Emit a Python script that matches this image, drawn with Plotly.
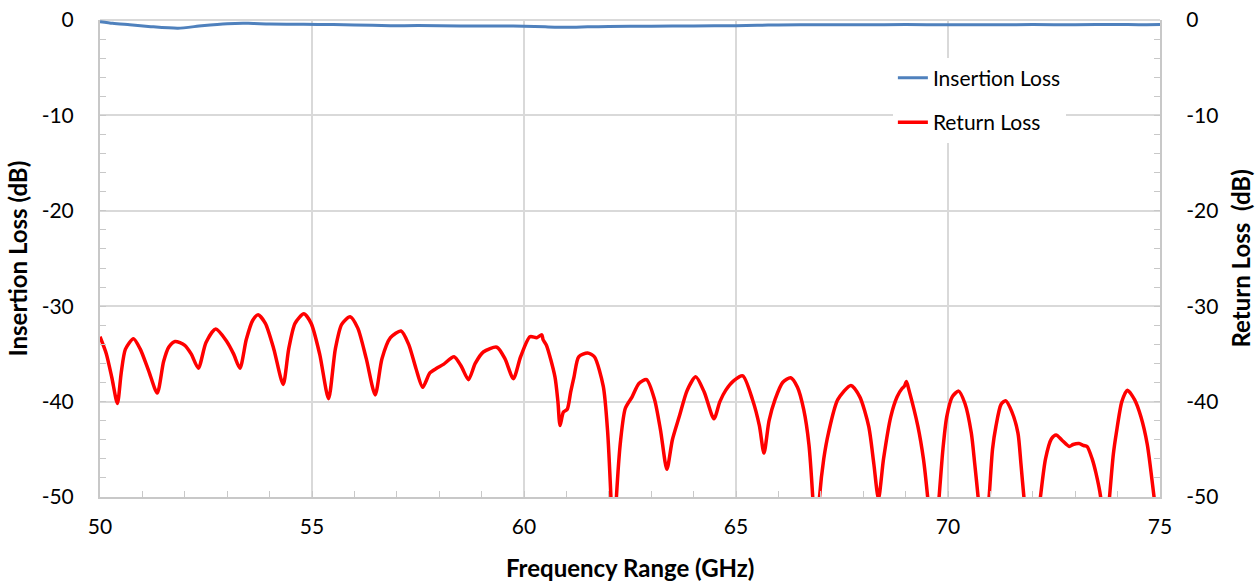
import plotly.graph_objects as go

# Return Loss (red), right axis
rl_freq = [50.00, 50.15, 50.28, 50.41, 50.50, 50.60, 50.79, 50.95, 51.15, 51.35,
           51.50, 51.62, 51.77, 52.00, 52.15, 52.32, 52.50, 52.73, 52.99, 53.15,
           53.30, 53.45, 53.60, 53.73, 53.90, 54.10, 54.32, 54.45, 54.60, 54.81,
           54.98, 55.18, 55.39, 55.55, 55.70, 55.90, 56.08, 56.28, 56.49, 56.65,
           56.85, 57.10, 57.28, 57.45, 57.61, 57.78, 57.94, 58.10, 58.35, 58.52,
           58.69, 58.85, 59.04, 59.36, 59.55, 59.75, 59.92, 60.14, 60.30, 60.42,
           60.45, 60.53, 60.73, 60.80, 60.85, 60.93, 61.02, 61.10, 61.18, 61.29,
           61.50, 61.66, 61.87, 61.97, 62.05, 62.11, 62.18, 62.28, 62.39, 62.55,
           62.71, 62.89, 63.08, 63.22, 63.37, 63.50, 63.66, 63.85, 64.05, 64.25,
           64.48, 64.62, 64.76, 64.95, 65.16, 65.39, 65.55, 65.66, 65.78, 65.92,
           66.10, 66.29, 66.45, 66.60, 66.72, 66.81, 66.89, 66.97, 67.07, 67.18,
           67.40, 67.71, 67.92, 68.13, 68.25, 68.36, 68.48, 68.65, 68.80, 68.92,
           68.97, 69.02, 69.08, 69.29, 69.42, 69.52, 69.66, 69.79, 69.88, 69.97,
           70.10, 70.25, 70.40, 70.55, 70.63, 70.71, 70.84, 70.97, 71.05, 71.13,
           71.25, 71.36, 71.50, 71.65, 71.72, 71.79, 71.98, 72.18, 72.30, 72.44,
           72.55, 72.70, 72.86, 72.95, 73.09, 73.20, 73.28, 73.40, 73.49, 73.60,
           73.70, 73.81, 73.90, 73.97, 74.10, 74.23, 74.40, 74.55, 74.70, 74.86,
           75.00]
rl_db = [-33.2, -35.0, -37.5, -40.2, -37.0, -34.5, -33.4, -34.5, -36.8, -39.1,
         -35.8, -34.3, -33.7, -34.1, -35.0, -36.5, -33.8, -32.4, -33.7, -35.0,
         -36.5, -33.5, -31.5, -30.9, -31.8, -34.5, -38.2, -34.5, -31.8, -30.8,
         -31.8, -35.0, -39.7, -34.5, -31.9, -31.1, -32.3, -35.5, -39.3, -35.5,
         -33.3, -32.6, -34.0, -36.5, -38.5, -37.0, -36.5, -36.1, -35.3, -36.3,
         -37.7, -36.0, -34.8, -34.3, -35.5, -37.6, -35.3, -33.2, -33.3, -33.0,
         -33.5, -34.1, -37.4, -40.0, -42.5, -41.1, -40.8, -39.0, -37.4, -35.3,
         -34.9, -35.3, -38.4, -43.0, -50.0, -57.0, -50.0, -44.0, -40.7, -39.5,
         -38.1, -37.7, -39.8, -43.0, -47.1, -44.0, -41.6, -38.8, -37.4, -39.0,
         -41.8, -40.0, -38.8, -37.8, -37.3, -39.8, -42.5, -45.4, -42.0, -39.8,
         -38.0, -37.5, -38.5, -40.9, -44.5, -50.0, -57.0, -50.0, -46.0, -43.3,
         -39.8, -38.3, -39.5, -42.6, -46.5, -50.2, -46.0, -41.6, -39.5, -38.6,
         -38.4, -37.9, -38.8, -42.6, -46.0, -50.0, -57.0, -50.0, -45.0, -41.6,
         -39.5, -38.9, -40.2, -43.3, -46.5, -50.0, -57.0, -50.0, -45.0, -42.6,
         -40.3, -39.9, -41.0, -43.3, -46.5, -50.0, -58.0, -50.0, -46.0, -43.9,
         -43.5, -44.1, -44.7, -44.5, -44.4, -44.6, -44.7, -46.0, -47.5, -50.0,
         -56.0, -50.0, -45.5, -43.3, -40.0, -38.8, -39.8, -41.6, -44.5, -50.0,
         -55.0]

# Insertion Loss (blue), left axis
il_freq = [50.0, 50.3, 50.7, 51.2, 51.84, 52.4, 53.0, 53.5, 54.0, 54.8, 55.5,
           56.0, 56.85, 57.5, 58.5, 59.5, 60.0, 60.5, 61.0, 61.5, 62.0, 63.0,
           64.0, 65.0, 65.5, 66.0, 67.0, 68.0, 69.0, 70.0, 71.0, 72.0, 73.0,
           74.0, 74.5, 75.0]
il_db = [-0.18, -0.35, -0.5, -0.7, -0.87, -0.6, -0.38, -0.35, -0.42, -0.45, -0.48,
         -0.52, -0.6, -0.58, -0.62, -0.62, -0.65, -0.72, -0.77, -0.72, -0.68, -0.65,
         -0.62, -0.6, -0.55, -0.52, -0.5, -0.5, -0.48, -0.5, -0.5, -0.48, -0.5,
         -0.47, -0.5, -0.48]

x_ticks = [50, 55, 60, 65, 70, 75]
x_labels = ["50", "55", "60", "65", "70", "75"]
y_ticks = [0, -10, -20, -30, -40, -50]
y_labels = ["0", "-10", "-20", "-30", "-40", "-50"]

FONT = "Lato, 'Open Sans', sans-serif"
GRID = "#d9d9d9"
AXIS = "#c8c8c8"
TICK_SIZE = 21

fig = go.Figure()
fig.add_trace(go.Scatter(x=il_freq, y=il_db, name="Insertion Loss", mode="lines",
                         line=dict(color="#4f81bd", width=3, shape="spline", smoothing=0.6),
                         yaxis="y", legendgroup="a"))
fig.add_trace(go.Scatter(x=rl_freq, y=rl_db, name="Return Loss", mode="lines",
                         line=dict(color="#ff0000", width=3.5, shape="spline", smoothing=0.7),
                         yaxis="y2", legendgroup="b"))

minor_x = dict(dtick=1, ticks="inside", ticklen=6, tickcolor=AXIS, showgrid=False)
minor_y = dict(dtick=2, ticks="inside", ticklen=6, tickcolor=AXIS, showgrid=False)

fig.update_layout(
    width=1259, height=581,
    margin=dict(l=100, r=99, t=20, b=84),
    paper_bgcolor="white", plot_bgcolor="white",
    font=dict(family=FONT, size=TICK_SIZE, color="#000000"),
    showlegend=True,
    legend=dict(x=0.748, y=0.921, xanchor="left", yanchor="top",
                bgcolor="white", font=dict(size=21), tracegroupgap=14,
                traceorder="grouped"),
    xaxis=dict(range=[50, 75], tickvals=x_ticks, ticktext=x_labels,
               ticks="inside", ticklen=6,
               tickcolor=AXIS, showgrid=True, gridcolor=GRID, gridwidth=1.5,
               showline=True, linecolor=AXIS, linewidth=2, zeroline=False,
               minor=minor_x, ticklabelstandoff=10,
               tickfont=dict(size=TICK_SIZE), automargin=False),
    yaxis=dict(range=[-50, 0], tickvals=y_ticks, ticktext=y_labels,
               ticks="inside", ticklen=6,
               tickcolor=AXIS, showgrid=True, gridcolor=GRID, gridwidth=1.5,
               showline=True, linecolor=AXIS, linewidth=2,
               zeroline=True, zerolinecolor=GRID, zerolinewidth=1.5,
               minor=minor_y, ticklabelstandoff=20,
               tickfont=dict(size=TICK_SIZE), automargin=False),
    yaxis2=dict(range=[-50, 0], tickvals=y_ticks, ticktext=y_labels,
                ticks="inside", ticklen=6,
                tickcolor=AXIS, showgrid=False, overlaying="y", side="right",
                showline=True, linecolor=AXIS, linewidth=2, zeroline=False,
                minor=minor_y, ticklabelstandoff=20,
                tickfont=dict(size=TICK_SIZE), automargin=False),
)

title_font = dict(size=24, weight="bold", family=FONT)
fig.add_annotation(text="Insertion Loss (dB)", xref="paper", yref="paper",
                   x=-0.0774, y=0.5, textangle=-90, showarrow=False,
                   xanchor="center", yanchor="middle", font=title_font)
fig.add_annotation(text="Return Loss  (dB)", xref="paper", yref="paper",
                   x=1.0755, y=0.5, textangle=-90, showarrow=False,
                   xanchor="center", yanchor="middle", font=title_font)
fig.add_annotation(text="Frequency Range (GHz)", xref="paper", yref="paper",
                   x=0.5, y=-0.147, showarrow=False,
                   xanchor="center", yanchor="middle", font=title_font)

fig.write_html("out.html", config={"displayModeBar": False},
               post_script="document.body.style.margin='0';document.body.style.padding='0';")
